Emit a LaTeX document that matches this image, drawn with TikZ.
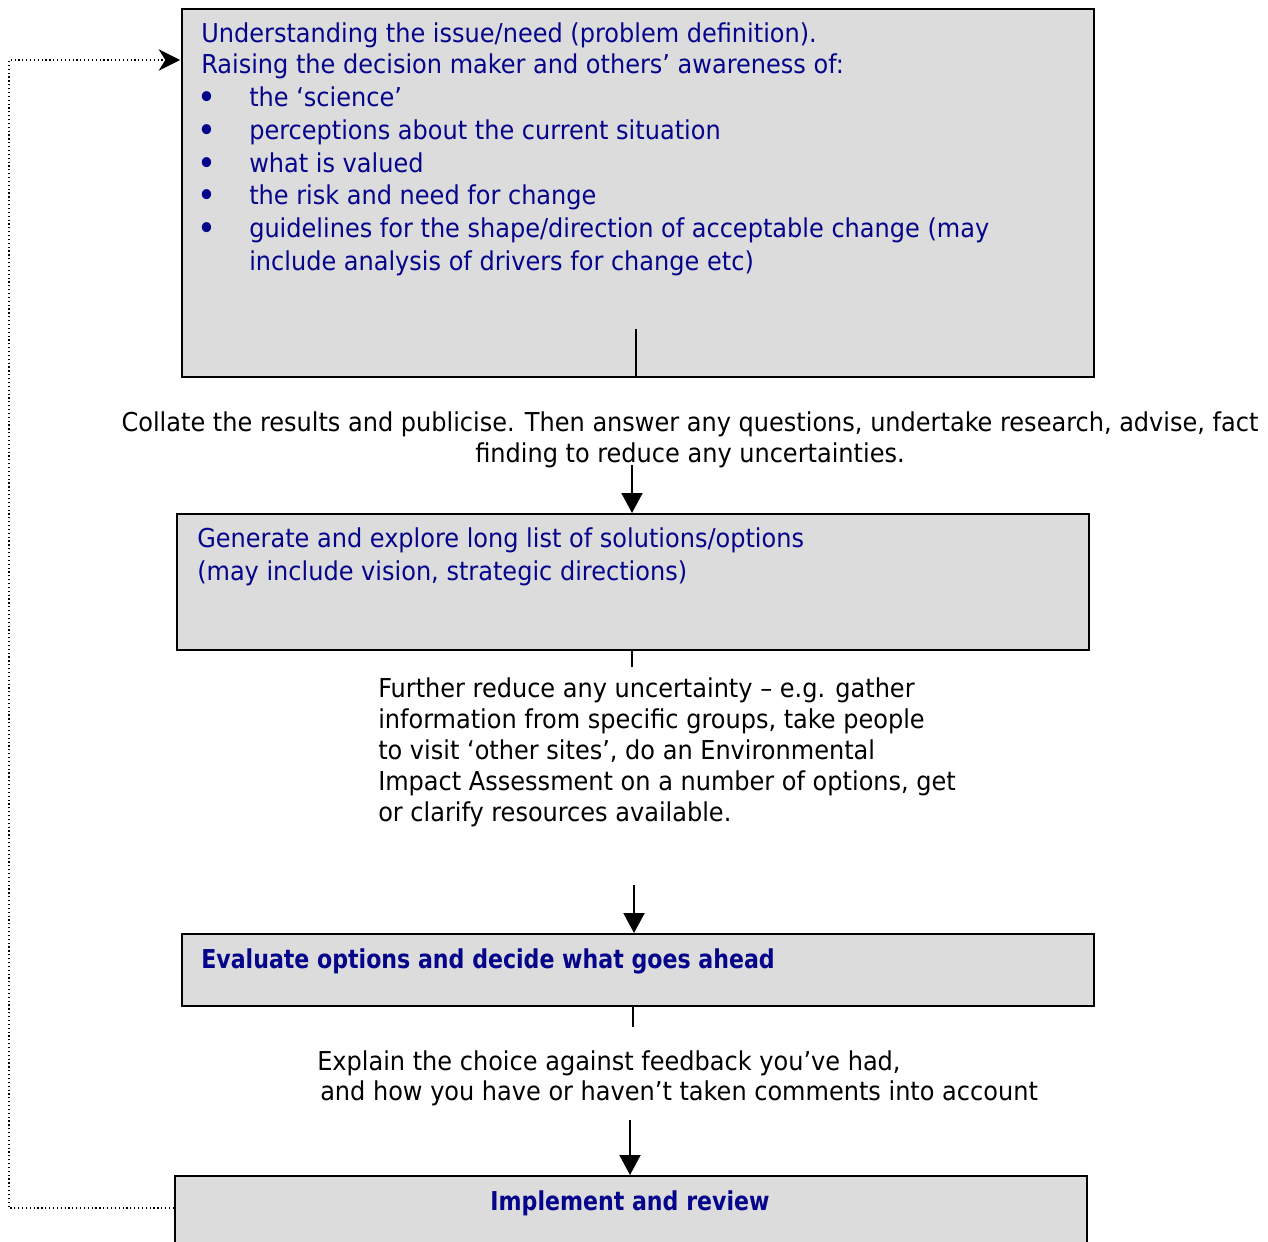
\documentclass[tikz,border=0pt]{standalone}
\usepackage{fontspec}
\setmainfont{DejaVu Sans Condensed}[FakeStretch=1.027,BoldFeatures={FakeStretch=0.945}]
\usetikzlibrary{arrows.meta}
\definecolor{boxgray}{RGB}{220,220,220}
\definecolor{navytext}{RGB}{5,5,140}
\begin{document}
\begin{tikzpicture}[x=0.75pt,y=-0.75pt,
  box/.style={draw=black,line width=1.5pt,fill=boxgray,anchor=north west,inner sep=0pt},
  bt/.style={anchor=base west,inner sep=0pt,text=navytext,font=\fontsize{19.5}{23}\selectfont},
  kt/.style={anchor=base west,inner sep=0pt,text=black,font=\fontsize{19.5}{23}\selectfont},
  bul/.style={anchor=base,inner sep=0pt,text=navytext,font=\fontsize{26}{26}\selectfont},
  conn/.style={line width=1.5pt},
  arr/.style={line width=1.5pt,-{Triangle[width=15.75pt,length=15pt]}},
  fb/.style={line width=0.9pt,dotted,-{Stealth[width=16pt,length=16pt,inset=5pt]}}]
\useasboundingbox (0,0) rectangle (1268,1242);
\clip (0,0) rectangle (1268,1242);
% boxes
\node[box,minimum width=684pt,minimum height=276pt] (b1) at (181,8) {};
\node[box,minimum width=684pt,minimum height=102pt] (b2) at (176,513) {};
\node[box,minimum width=684pt,minimum height=54pt] (b3) at (181,933) {};
\node[box,minimum width=684pt,minimum height=80pt] (b4) at (174,1175) {};
% box 1 text
\node[bt] (t1a) at (201,42) {Understanding the issue/need (problem definition).};
\node[bt] (t1b) at (201,73) {Raising the decision maker and others’ awareness of:};
\node[bul] (u1) at (207,109) {•};
\node[bt] (l1) at (249,106) {the ‘science’};
\node[bul] (u2) at (207,142) {•};
\node[bt] (l2) at (249,139) {perceptions about the current situation};
\node[bul] (u3) at (207,175) {•};
\node[bt] (l3) at (249,172) {what is valued};
\node[bul] (u4) at (207,207) {•};
\node[bt] (l4) at (249,204) {the risk and need for change};
\node[bul] (u5) at (207,240) {•};
\node[bt] (l5) at (249,237) {guidelines for the shape/direction of acceptable change (may};
\node[bt] (l6) at (249,270) {include analysis of drivers for change etc)};
\coordinate (s1) at (636,329);
\draw[conn] (s1) -- (s1 |- b1.south);
% collate text
\node[kt,anchor=base] (c1) at (690,431) {Collate the results and publicise. Then answer any questions, undertake research, advise, fact};
\node[kt,anchor=base] (c2) at (690,462) {finding to reduce any uncertainties.};
\coordinate (a1) at (632,465);
\draw[arr] (a1) -- (a1 |- b2.north);
% box 2 text
\node[bt] (t2a) at (197,547) {Generate and explore long list of solutions/options};
\node[bt] (t2b) at (197,580) {(may include vision, strategic directions)};
\coordinate (s2) at (632,667);
\draw[conn] (s2 |- b2.south) -- (s2);
% further text
\node[kt] (f1) at (378,697) {Further reduce any uncertainty – e.g. gather};
\node[kt] (f2) at (378,728) {information from specific groups, take people};
\node[kt] (f3) at (378,759) {to visit ‘other sites’, do an Environmental};
\node[kt] (f4) at (378,790) {Impact Assessment on a number of options, get};
\node[kt] (f5) at (378,821) {or clarify resources available.};
\coordinate (a2) at (634,885);
\draw[arr] (a2) -- (a2 |- b3.north);
% box 3 text
\node[bt,font=\bfseries\fontsize{19.5}{23}\selectfont] (t3) at (201,968) {Evaluate options and decide what goes ahead};
\coordinate (s3) at (633,1027);
\draw[conn] (s3 |- b3.south) -- (s3);
% explain text
\node[kt] (e1) at (317,1070) {Explain the choice against feedback you’ve had,};
\node[kt] (e2) at (320,1100) {and how you have or haven’t taken comments into account};
\coordinate (a3) at (630,1120);
\draw[arr] (a3) -- (a3 |- b4.north);
% box 4 text
\node[bt,anchor=base,font=\bfseries\fontsize{19.5}{23}\selectfont] (t4) at (630,1210) {Implement and review};
% feedback loop
\coordinate (fa) at (174,1208);
\coordinate (fl) at (9,1208);
\coordinate (ft) at (9,60);
\coordinate (fe) at (180,60);
\draw[fb] (fa) -- (fl) -- (ft) -- (fe);
\end{tikzpicture}
\end{document}
